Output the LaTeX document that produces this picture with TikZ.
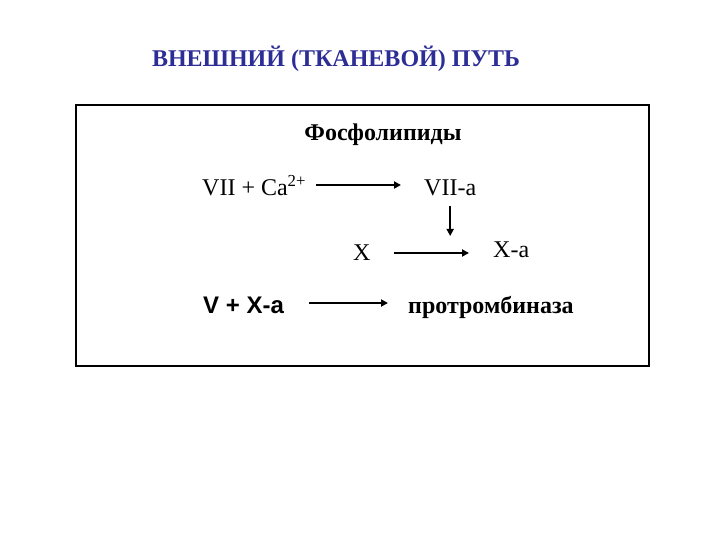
\documentclass[tikz,border=0pt]{standalone}
\usepackage{fontspec}
\setmainfont{Liberation Serif}
\newfontfamily\arialfont{Liberation Sans}
\usetikzlibrary{arrows.meta}
\definecolor{titleblue}{RGB}{45,45,150}

\begin{document}
\begin{tikzpicture}[x=1pt,y=-1pt,
        every node/.style={inner sep=0pt,font=\fontsize{24}{28}\selectfont},
        label text/.style={anchor=base west},
        reaction/.style={line width=2pt,-{Triangle[length=7pt,width=7pt]}}
    ]
    \useasboundingbox (0,0) rectangle (720,540);
    \node[anchor=base,text=titleblue,font=\fontsize{24}{28}\selectfont\bfseries] (title) at (336,67) {ВНЕШНИЙ (ТКАНЕВОЙ) ПУТЬ};
    \draw[line width=1.3pt] (76,105) rectangle (649,366);

    \node[anchor=base,font=\fontsize{24}{28}\selectfont\bfseries] (fosfo) at (383,141) {Фосфолипиды};
    \node[label text] (vii) at (202,196) {VII + Ca\textsuperscript{2+}};
    \node[label text] (viia) at (424,196) {VII-a};
    \node[label text] (x) at (353,260) {X};
    \node[label text] (xa) at (493,257) {X-a};
    \node[label text,font=\fontsize{24}{28}\selectfont\arialfont\bfseries] (v) at (203,313) {V + X-a};
    \node[label text,font=\fontsize{24}{28}\selectfont\bfseries] (prot) at (408,313) {протромбиназа};

    \draw[reaction] ([shift={(10,-11)}]vii.base east) -- ([shift={(-23,-11)}]viia.base west);
    \draw[reaction] ([shift={(0,10)}]viia.base) -- ++(0,30);
    \draw[reaction] ([shift={(23,-7)}]x.base east) -- ([shift={(-24,-4)}]xa.base west);
    \draw[reaction] ([shift={(25,-10)}]v.base east) -- ([shift={(-20,-10)}]prot.base west);
\end{tikzpicture}
\end{document}
